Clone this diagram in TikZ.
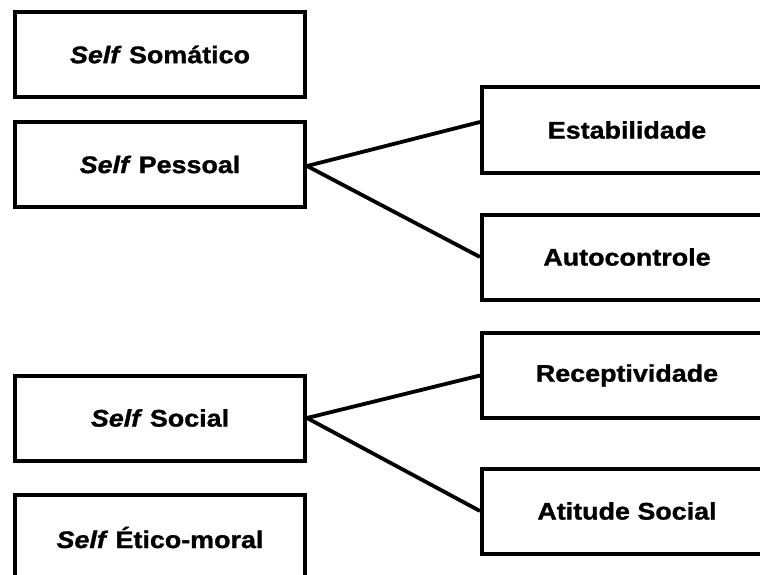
\documentclass[tikz,border=0pt]{standalone}
\usepackage{fontspec}
\setmainfont{Liberation Sans}[FakeStretch=1.12,BoldFeatures={FakeBold=1.2},BoldItalicFeatures={FakeBold=1.2}]
\usepackage{tikz}
\usetikzlibrary{positioning}

\begin{document}
\begin{tikzpicture}[x=1pt,y=-1pt]
                    \tikzstyle{every node}+=[inner sep=0pt]
                    \tikzstyle{selfbox}=[draw=black,line width=4pt,minimum width=290pt,minimum height=85pt,font=\fontsize{24}{28}\selectfont\bfseries]
                    \tikzstyle{link}=[black,line width=3.8pt]
                    \clip (0,0) rectangle (760,575);
                    % left column
                    \node [selfbox] (somatico) at (160,54.5) {\textit{Self} Somático};
                    \node [selfbox] (pessoal) at (160,164.5) {\textit{Self} Pessoal};
                    \node [selfbox] (social) at (160,418) {\textit{Self} Social};
                    \node [selfbox] (etico) at (160,537.5) {\textit{Self} Ético-moral};
                    % right column
                    \node [selfbox] (estab) at (627,130) {Estabilidade};
                    \node [selfbox] (autoc) at (627,257) {Autocontrole};
                    \node [selfbox] (recep) at (627,375.5) {Receptividade};
                    \node [selfbox] (atitude) at (627,511) {Atitude Social};
                    % connectors
                    \draw [link] ([yshift=-1.5pt]pessoal.east) -- ([yshift=8pt]estab.west);
                    \draw [link] ([yshift=-1.5pt]pessoal.east) -- (autoc.west);
                    \draw [link] (social.east) -- (recep.west);
                    \draw [link] (social.east) -- (atitude.west);
                \end{tikzpicture}
\end{document}
